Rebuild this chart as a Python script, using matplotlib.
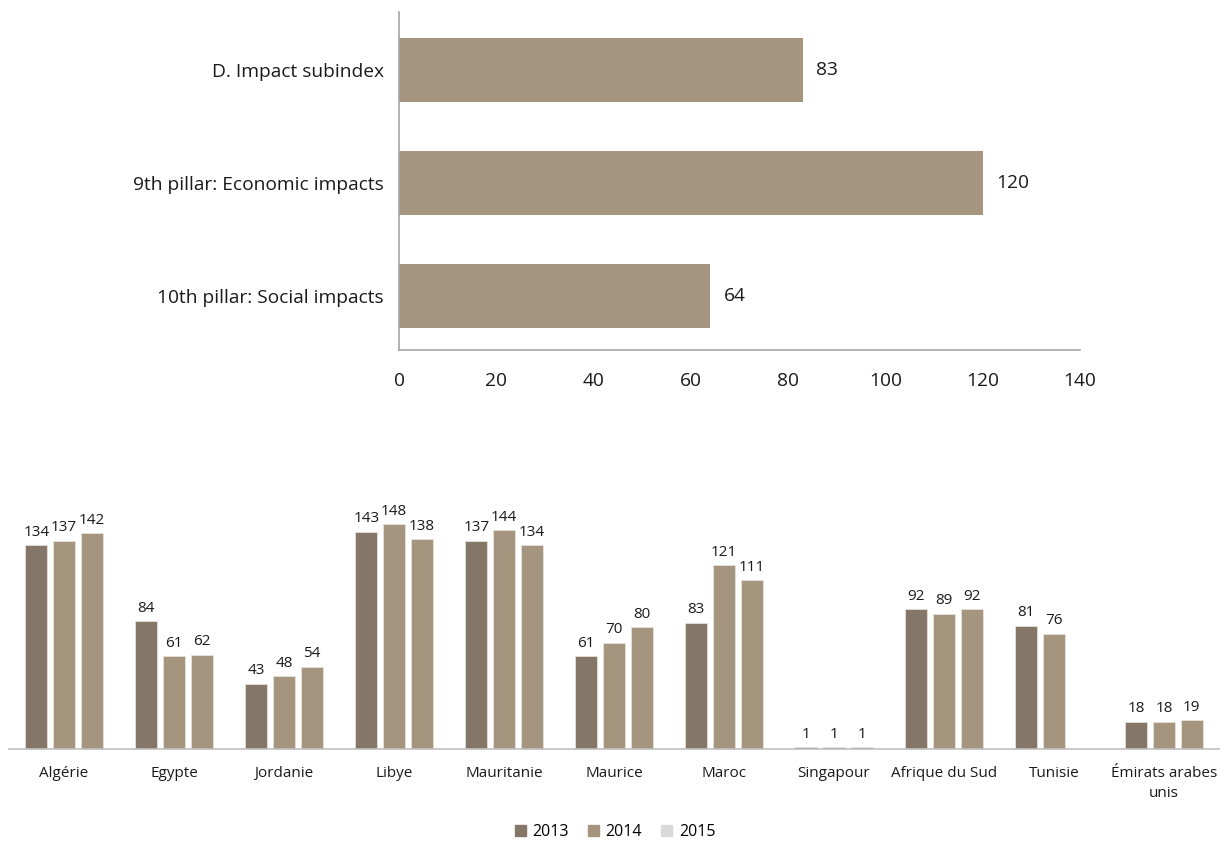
import numpy as np
import matplotlib
matplotlib.use("Agg")
import matplotlib.pyplot as plt
from matplotlib.patches import Patch

# ---- data ----
top_categories = ["D. Impact subindex", "9th pillar: Economic impacts", "10th pillar: Social impacts"]
top_values = [83, 120, 64]
top_ticks = [0, 20, 40, 60, 80, 100, 120, 140]

countries = ["Algérie", "Egypte", "Jordanie", "Libye", "Mauritanie", "Maurice", "Maroc",
             "Singapour", "Afrique du Sud", "Tunisie", "Émirats arabes\nunis"]
series_names = ["2013", "2014", "2015"]
v2013 = [134, 84, 43, 143, 137, 61, 83, 1, 92, 81, 18]
v2014 = [137, 61, 48, 148, 144, 70, 121, 1, 89, 76, 18]
v2015 = [142, 62, 54, 138, 134, 80, 111, 1, 92, np.nan, 19]

dark = "#857767"
light = "#A6957E"
legend2015 = "#D9D9D9"
axis_gray = "#A6A6A6"

fig = plt.figure(figsize=(12.3, 8.42), dpi=100)

# ---- top chart ----
ax1 = fig.add_axes([0.3244, 0.5843, 0.5537, 0.4014])
ypos = np.arange(len(top_categories))
bars = ax1.barh(ypos, top_values, height=0.566, color=light)
ax1.set_ylim(2.478, -0.513)
ax1.set_xlim(0, 140)
ax1.set_xticks(top_ticks)
ax1.set_yticks(ypos)
ax1.set_yticklabels(top_categories, fontsize=13.8, family="Open Sans", color="#1a1a1a")
ax1.set_xticklabels([str(t) for t in top_ticks], fontsize=13.8, family="Open Sans", color="#1a1a1a")
ax1.tick_params(axis="both", length=0)
ax1.tick_params(axis="y", pad=11)
ax1.tick_params(axis="x", pad=16)
for s in ["top", "right"]:
    ax1.spines[s].set_visible(False)
for s in ["left", "bottom"]:
    ax1.spines[s].set_color(axis_gray)
    ax1.spines[s].set_linewidth(1.2)
for b, v in zip(bars, top_values):
    ax1.annotate(str(v), (b.get_width(), b.get_y() + b.get_height() / 2),
                 xytext=(9.5, 0), textcoords="offset points", va="center", ha="left",
                 fontsize=13.8, family="Open Sans", color="#1a1a1a")

# ---- bottom chart ----
ax2 = fig.add_axes([0.0073, 0.1105, 0.9837, 0.2886])
x = np.arange(len(countries))
w = 0.2
off = 0.252
colors = [dark, light, light]
for i, vals in enumerate([v2013, v2014, v2015]):
    ax2.bar(x + (i - 1) * off, vals, width=w, color=colors[i],
            edgecolor="#E6E1DA", linewidth=0.6)
    for xi, v in zip(x, vals):
        if np.isnan(v):
            continue
        ax2.annotate(str(int(v)), (xi + (i - 1) * off, v), xytext=(0, 4),
                     textcoords="offset points", ha="center", va="bottom",
                     fontsize=11, family="Open Sans", color="#1a1a1a")
ax2.set_xlim(-0.5, len(countries) - 0.5)
ax2.set_ylim(0, 160)
ax2.set_xticks(x)
ax2.set_xticklabels(countries, fontsize=11, family="Open Sans", color="#1a1a1a",
                    linespacing=1.45)
ax2.tick_params(axis="x", length=0, pad=12)
ax2.set_yticks([])
for s in ["top", "right", "left"]:
    ax2.spines[s].set_visible(False)
ax2.spines["bottom"].set_color("#BFBFBF")
ax2.spines["bottom"].set_linewidth(1.2)

handles = [Patch(color=c, label=n) for c, n in zip([dark, light, legend2015], series_names)]
fig.legend(handles=handles, loc="center", bbox_to_anchor=(0.5, 1 - 832 / 842), ncol=3,
           frameon=False, prop={"family": "Open Sans", "size": 11.5},
           handlelength=0.7, handleheight=0.7, handletextpad=0.4, columnspacing=1.2)

fig.savefig("out.png", dpi=100)
